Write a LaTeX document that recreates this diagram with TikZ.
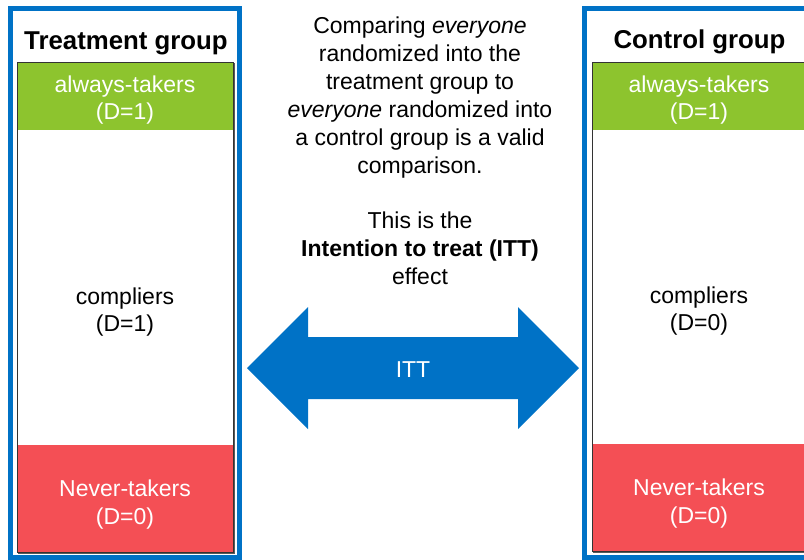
\documentclass[tikz,border=0pt]{standalone}
\usepackage{fontspec}
\setmainfont{Liberation Sans}
\definecolor{bluebox}{RGB}{0,114,198}
\definecolor{greenband}{RGB}{141,196,46}
\definecolor{redband}{RGB}{244,79,85}
\definecolor{shadowgray}{RGB}{90,90,90}
\tikzset{
  outerbox/.style={draw=bluebox,line width=5pt},
  innerbox/.style={draw=black!80,line width=0.8pt},
  innershadow/.style={draw=shadowgray,line width=1.2pt},
  bandtext/.style={text=white,align=center,font=\fontsize{23}{27.9}\selectfont,inner sep=0pt},
  bodytext/.style={text=black,align=center,font=\fontsize{23}{27.9}\selectfont,inner sep=0pt},
  titletext/.style={text=black,font=\fontsize{25.8}{30}\selectfont\bfseries,inner sep=0pt},
}
\begin{document}
\begin{tikzpicture}[x=1pt,y=-1pt]
\useasboundingbox (0,0) rectangle (804,560);
\begin{scope}
\clip (0,0) rectangle (804,560);
% left group
\draw[outerbox,fill=white] (10.5,8.5) rectangle (239.5,557.5);
\draw[innershadow] (18.5,63.5) rectangle (234.5,553.5);
\fill[white] (17,62) rectangle (233,552);
\fill[greenband] (17,62) rectangle (233,130);
\fill[redband] (17,445) rectangle (233,552);
\draw[innerbox] (17,62) rectangle (233,552);
% right group
\draw[outerbox,fill=white] (584.5,8.5) rectangle (840,557.5);
\draw[innershadow] (593.5,63.5) rectangle (840,552.5);
\fill[white] (592,62) rectangle (840,551);
\fill[greenband] (592,62) rectangle (840,130);
\fill[redband] (592,444) rectangle (840,551);
\draw[innerbox] (592,62) rectangle (840,551);
\end{scope}
% titles
\node[titletext] (ttitle) at (126,43.5) {Treatment group};
\node[titletext] (ctitle) at (699.5,42) {Control group};
% left bands
\node[bandtext] (tat) at (125,100) {always-takers\\(D=1)};
\node[bodytext] (tco) at (125,312) {compliers\\(D=1)};
\node[bandtext] (tnt) at (125,504.5) {Never-takers\\(D=0)};
% right bands
\node[bandtext] (cat) at (699,100) {always-takers\\(D=1)};
\node[bodytext] (cco) at (699,311) {compliers\\(D=0)};
\node[bandtext] (cnt) at (699,503.5) {Never-takers\\(D=0)};
% center text
\node[bodytext] (explain) at (420,151) {Comparing \emph{everyone}\\randomized into the\\treatment group to\\\emph{everyone} randomized into\\a control group is a valid\\comparison.\\[27.9pt]This is the\\\textbf{Intention to treat (ITT)}\\effect};
% arrow
\fill[bluebox] (247,368) -- (308,307) -- (308,337) -- (518,337) -- (518,307) -- (579,368) -- (518,429) -- (518,399) -- (308,399) -- (308,429) -- cycle;
\node[text=white,font=\fontsize{23}{27.9}\selectfont,inner sep=0pt] (itt) at (413,370) {ITT};
\end{tikzpicture}
\end{document}
